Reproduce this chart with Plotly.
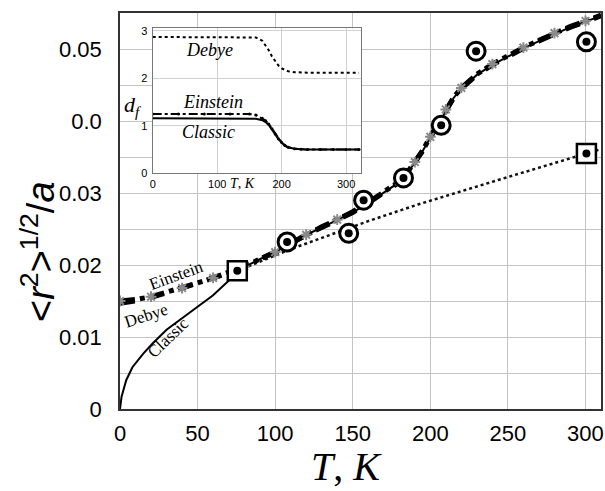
import plotly.graph_objects as go

# ---- main panel: rms displacement vs temperature ----
T_main = [0, 10, 20, 30, 40, 50, 60, 70, 80, 90, 100, 110, 120, 130, 140, 150,
          160, 170, 180, 185, 190, 195, 200, 205, 210, 215, 220, 230, 240, 250,
          260, 270, 280, 290, 300, 310]
r_debye = [0.0147, 0.0150, 0.0155, 0.0161, 0.0168, 0.0175, 0.0182, 0.0189, 0.0198,
           0.0208, 0.0218, 0.0230, 0.0242, 0.0252, 0.0262, 0.0273, 0.0286, 0.0300,
           0.0315, 0.0327, 0.0342, 0.0358, 0.0377, 0.0395, 0.0415, 0.0432, 0.0445,
           0.0464, 0.0478, 0.0490, 0.0501, 0.0511, 0.0521, 0.0530, 0.0538, 0.0546]
r_einstein = [0.0150, 0.0152, 0.0156, 0.0162, 0.0168, 0.0175, 0.0182, 0.0190, 0.0198,
              0.0208, 0.0218, 0.0230, 0.0242, 0.0253, 0.0263, 0.0274, 0.0287, 0.0301,
              0.0316, 0.0328, 0.0343, 0.0359, 0.0378, 0.0396, 0.0416, 0.0433, 0.0446,
              0.0465, 0.0479, 0.0491, 0.0502, 0.0512, 0.0522, 0.0531, 0.0539, 0.0547]
T_classic = [0, 1, 4, 8, 15, 21, 30, 40, 50, 60, 70, 80, 90, 100, 110, 120, 130, 140,
             150, 160, 170, 180, 185, 190, 195, 200, 205, 210, 215, 220, 230, 240,
             250, 260, 270, 280, 290, 300, 310]
r_classic = [0.0, 0.0017, 0.0040, 0.0058, 0.0077, 0.0091, 0.0110, 0.0126, 0.0141,
             0.0158, 0.0178, 0.0197, 0.0208, 0.0218, 0.0230, 0.0242, 0.0252, 0.0262,
             0.0273, 0.0286, 0.0300, 0.0315, 0.0327, 0.0342, 0.0358, 0.0377, 0.0395,
             0.0415, 0.0432, 0.0445, 0.0464, 0.0478, 0.0490, 0.0501, 0.0511, 0.0521,
             0.0530, 0.0538, 0.0546]

# experimental points
T_circ = [107.7, 147.4, 157.0, 182.7, 207.0, 229.5, 300.6]
r_circ = [0.0232, 0.0244, 0.0290, 0.0321, 0.0394, 0.0497, 0.0510]
T_sq = [75.6, 300.6]
r_sq = [0.0192, 0.0355]

# dotted guide through the square points
T_guide = [75.6, 110, 160, 192, 243.6, 300.6, 310]
r_guide = [0.0192, 0.0222, 0.0261, 0.0284, 0.0318, 0.0355, 0.0361]

# ---- inset: fractal dimension d_f vs temperature ----
T_in = [0, 40, 80, 120, 150, 160, 170, 175, 180, 185, 190, 195, 200, 205, 210,
        220, 230, 240, 260, 280, 300, 320]
df_debye = [2.87, 2.87, 2.87, 2.87, 2.87, 2.86, 2.79, 2.70, 2.59, 2.46, 2.35, 2.27,
            2.21, 2.18, 2.15, 2.13, 2.12, 2.12, 2.12, 2.12, 2.12, 2.12]
df_einstein = [1.25, 1.25, 1.25, 1.25, 1.25, 1.23, 1.16, 1.11, 1.04, 0.94, 0.83,
               0.73, 0.65, 0.59, 0.55, 0.52, 0.51, 0.50, 0.50, 0.50, 0.50, 0.50]
df_classic = [1.16, 1.16, 1.16, 1.16, 1.16, 1.15, 1.12, 1.08, 1.02, 0.93, 0.82,
              0.72, 0.64, 0.58, 0.55, 0.52, 0.51, 0.50, 0.50, 0.50, 0.50, 0.50]

y_ticks = [0, 0.01, 0.02, 0.03, 0.04, 0.05]
y_ticktext = ["0", "0.01", "0.02", "0.03", "0.0", "0.05"]
x_ticks = [0, 50, 100, 150, 200, 250, 300]
x_ticktext = ["0", "50", "100", "150", "200", "250", "300"]

fig = go.Figure()

fig.add_trace(go.Scatter(x=T_guide, y=r_guide, mode="lines",
                         line=dict(color="#111", width=2.5, dash="dot")))
fig.add_trace(go.Scatter(x=T_classic, y=r_classic, mode="lines",
                         line=dict(color="black", width=2)))
fig.add_trace(go.Scatter(x=T_main, y=r_debye, mode="lines",
                         line=dict(color="black", width=5, dash="dash")))
fig.add_trace(go.Scatter(x=T_main, y=r_einstein, mode="lines",
                         line=dict(color="black", width=5, dash="dashdot")))
fig.add_trace(go.Scatter(x=T_main[::2], y=r_einstein[::2], mode="markers",
                         marker=dict(symbol="asterisk-open", size=9, color="#8a8a8a",
                                     line=dict(width=2, color="#8a8a8a"))))
fig.add_trace(go.Scatter(x=T_sq, y=r_sq, mode="markers",
                         marker=dict(symbol="square", size=19, color="white",
                                     line=dict(width=2.5, color="black"))))
fig.add_trace(go.Scatter(x=T_circ, y=r_circ, mode="markers",
                         marker=dict(symbol="circle", size=18, color="white",
                                     line=dict(width=3, color="black"))))
fig.add_trace(go.Scatter(x=T_circ + T_sq, y=r_circ + r_sq, mode="markers",
                         marker=dict(symbol="circle", size=8, color="black")))

# inset traces
fig.add_trace(go.Scatter(x=T_in, y=df_debye, mode="lines", xaxis="x2", yaxis="y2",
                         line=dict(color="black", width=2, dash="dot")))
fig.add_trace(go.Scatter(x=T_in, y=df_classic, mode="lines", xaxis="x2", yaxis="y2",
                         line=dict(color="black", width=2)))
fig.add_trace(go.Scatter(x=T_in, y=df_einstein, mode="lines+markers", xaxis="x2",
                         yaxis="y2", line=dict(color="black", width=2, dash="dashdot"),
                         marker=dict(size=3, color="black")))

serif = "Liberation Serif"
sans = "Liberation Sans"

annotations = [
    # axis titles
    dict(text="<i>T</i>, <i>K</i>", x=0.47, y=-0.207, xref="paper", yref="paper",
         showarrow=False, font=dict(family=serif, size=40, color="black"),
         xanchor="center", yanchor="bottom"),
    dict(text="&lt;<i>r</i><sup>2</sup>&gt;<sup>1/2</sup>/<i>a</i>",
         x=-0.17, y=0.397, xref="paper", yref="paper", textangle=-90,
         showarrow=False, font=dict(family=sans, size=38, color="black"),
         xanchor="center", yanchor="middle"),
    # curve labels, main panel
    dict(text="Einstein", x=36, y=0.0186, xref="x", yref="y", textangle=-20,
         showarrow=False, font=dict(family=serif, size=17, color="black")),
    dict(text="Debye", x=17, y=0.0130, xref="x", yref="y", textangle=-18,
         showarrow=False, font=dict(family=serif, size=17, color="black")),
    dict(text="Classic", x=31, y=0.0100, xref="x", yref="y", textangle=-44,
         showarrow=False, font=dict(family=serif, size=17, color="black")),
    # inset labels
    dict(text="<i>Debye</i>", x=88, y=2.6, xref="x2", yref="y2", showarrow=False,
         font=dict(family=serif, size=18, color="black")),
    dict(text="<i>Einstein</i>", x=93, y=1.5, xref="x2", yref="y2", showarrow=False,
         font=dict(family=serif, size=18, color="black")),
    dict(text="<i>Classic</i>", x=87, y=0.88, xref="x2", yref="y2", showarrow=False,
         font=dict(family=serif, size=18, color="black")),
    dict(text="<i>T</i>, <i>K</i>", x=0.255, y=0.57, xref="paper", yref="paper",
         showarrow=False, xanchor="center", yanchor="middle",
         font=dict(family=serif, size=14, color="black")),
    dict(text="<i>d<sub>f</sub></i>", x=0.027, y=1.42, xref="paper", yref="y2",
         showarrow=False, xanchor="center",
         font=dict(family=serif, size=22, color="black")),
]

fig.update_layout(
    width=605, height=491,
    margin=dict(l=120, r=2, t=13, b=82),
    paper_bgcolor="white", plot_bgcolor="white",
    showlegend=False,
    annotations=annotations,
    xaxis=dict(range=[0, 310], tickvals=x_ticks, ticktext=x_ticktext,
               showgrid=True, gridcolor="#c4c4c4", gridwidth=1,
               showline=True, linecolor="#333", linewidth=1.5, mirror=True,
               zeroline=False, ticks="", ticklabelstandoff=4,
               tickfont=dict(family=sans, size=22, color="black")),
    yaxis=dict(range=[0, 0.055], tickvals=y_ticks, ticktext=y_ticktext,
               showgrid=True, gridcolor="#c4c4c4", gridwidth=1,
               minor=dict(dtick=0.005, showgrid=True, gridcolor="#c4c4c4"),
               showline=True, linecolor="#333", linewidth=1.5, mirror=True,
               zeroline=False, ticks="", ticklabelstandoff=12,
               tickfont=dict(family=sans, size=22, color="black")),
    xaxis2=dict(domain=[0.068, 0.501], anchor="y2", range=[0, 323],
                tickvals=[0, 100, 200, 300], showgrid=True, gridcolor="#d0d0d0",
                showline=True, linecolor="#777", linewidth=1.2, mirror=True,
                zeroline=False, ticks="", ticklabelstandoff=0,
                tickfont=dict(family=sans, size=11, color="black")),
    yaxis2=dict(domain=[0.595, 0.961], anchor="x2", range=[0, 3.05],
                tickvals=[0, 1, 2, 3], showgrid=True, gridcolor="#d0d0d0",
                showline=True, linecolor="#777", linewidth=1.2, mirror=True,
                zeroline=False, ticks="", ticklabelstandoff=2,
                tickfont=dict(family=sans, size=11, color="black")),
)

fig.write_html("out.html")
